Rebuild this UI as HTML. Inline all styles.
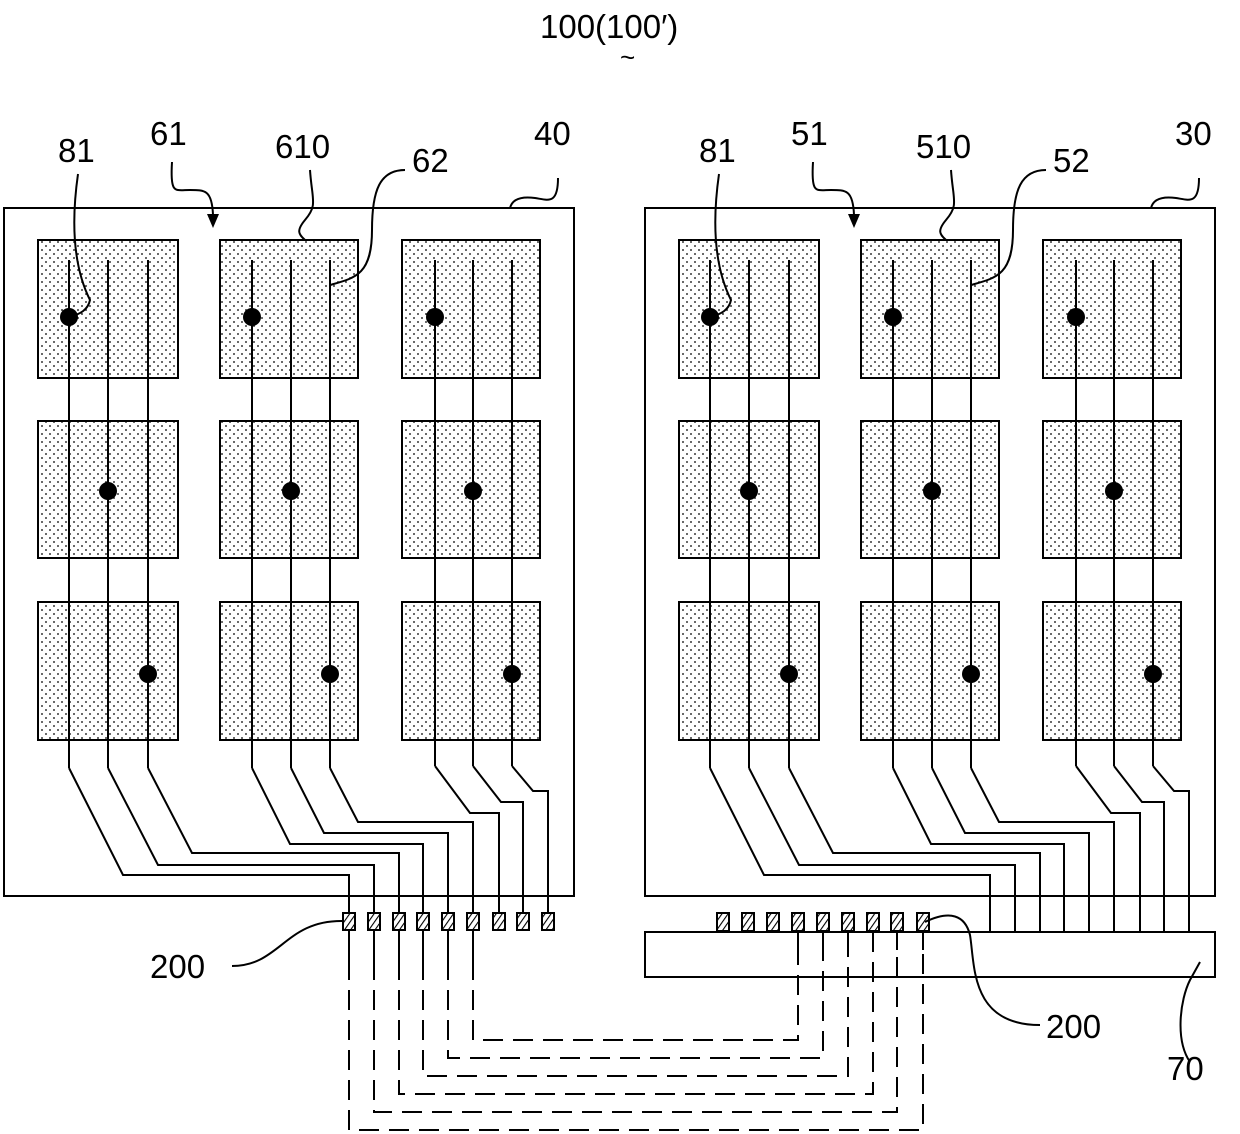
<!DOCTYPE html>
<html><head><style>html,body{margin:0;padding:0;background:#fff}svg{display:block}text{font-family:"Liberation Sans",sans-serif;font-size:33px;fill:#000}</style></head><body>
<svg width="1240" height="1134" viewBox="0 0 1240 1134" xmlns="http://www.w3.org/2000/svg">
<defs>
<pattern id="dots" width="8" height="8" patternUnits="userSpaceOnUse"><circle cx="2" cy="2" r="0.9" fill="#000"/><circle cx="6" cy="6" r="0.9" fill="#000"/></pattern>
<pattern id="hatch" width="5" height="5" patternUnits="userSpaceOnUse" patternTransform="rotate(35)"><line x1="0" y1="0" x2="0" y2="5" stroke="#000" stroke-width="2.2"/></pattern>
<g id="panel">
<rect x="4" y="208" width="570" height="688" fill="none" stroke="#000" stroke-width="2"/>
<g fill="url(#dots)" stroke="#000" stroke-width="2">
<rect x="38" y="240" width="140" height="138"/><rect x="220" y="240" width="138" height="138"/><rect x="402" y="240" width="138" height="138"/>
<rect x="38" y="421" width="140" height="137"/><rect x="220" y="421" width="138" height="137"/><rect x="402" y="421" width="138" height="137"/>
<rect x="38" y="602" width="140" height="138"/><rect x="220" y="602" width="138" height="138"/><rect x="402" y="602" width="138" height="138"/>
</g>
<g stroke="#000" stroke-width="2" fill="none">
<line x1="69" y1="260" x2="69" y2="768"/><line x1="108" y1="260" x2="108" y2="768"/><line x1="148" y1="260" x2="148" y2="768"/>
<line x1="252" y1="260" x2="252" y2="768"/><line x1="291" y1="260" x2="291" y2="768"/><line x1="330" y1="260" x2="330" y2="768"/>
<line x1="435" y1="260" x2="435" y2="766"/><line x1="473" y1="260" x2="473" y2="766"/><line x1="512" y1="260" x2="512" y2="766"/>
<polyline points="69,768 123,875 349,875 349,896"/>
<polyline points="108,768 158,865 374,865 374,896"/>
<polyline points="148,768 192,853 399,853 399,896"/>
<polyline points="252,768 290,844 423,844 423,896"/>
<polyline points="291,768 324,833 448,833 448,896"/>
<polyline points="330,768 358,822 473,822 473,896"/>
<polyline points="435,766 470,813 499,813 499,896"/>
<polyline points="473,766 501,802 523,802 523,896"/>
<polyline points="512,766 533,791 548,791 548,896"/>
</g>
<g fill="#000">
<circle cx="69" cy="317" r="9"/><circle cx="252" cy="317" r="9"/><circle cx="435" cy="317" r="9"/>
<circle cx="108" cy="491" r="9"/><circle cx="291" cy="491" r="9"/><circle cx="473" cy="491" r="9"/>
<circle cx="148" cy="674" r="9"/><circle cx="330" cy="674" r="9"/><circle cx="512" cy="674" r="9"/>
</g>
<g fill="none" stroke="#000" stroke-width="2">
<path d="M78,174 C70,230 75,270 90,300 C88,310 80,314 70,317"/>
<path d="M172,162 C170,195 175,190 190,190 C205,190 212,190 213,215"/>
<path d="M310,170 C312,200 318,205 305,220 C295,232 300,235 305,240"/>
<path d="M405,170 C380,170 372,190 372,230 C372,275 355,278 330,285"/>
<path d="M558,178 C558,205 548,200 535,198 C520,196 512,200 510,208"/>
</g>
<polygon points="207,214 219,214 213,228" fill="#000"/>
</g>
</defs>
<use href="#panel"/>
<use href="#panel" x="641"/>
<text x="540" y="38">100(100′)</text>
<text x="620" y="66" style="font-size:26px">~</text>
<text x="58" y="162">81</text><text x="150" y="145">61</text><text x="275" y="158">610</text><text x="412" y="172">62</text><text x="534" y="145">40</text>
<text x="699" y="162">81</text><text x="791" y="145">51</text><text x="916" y="158">510</text><text x="1053" y="172">52</text><text x="1175" y="145">30</text>
<g stroke="#000" stroke-width="2" fill="none">
<line x1="990" y1="896" x2="990" y2="932"/><line x1="1015" y1="896" x2="1015" y2="932"/><line x1="1040" y1="896" x2="1040" y2="932"/>
<line x1="1064" y1="896" x2="1064" y2="932"/><line x1="1089" y1="896" x2="1089" y2="932"/><line x1="1114" y1="896" x2="1114" y2="932"/>
<line x1="1140" y1="896" x2="1140" y2="932"/><line x1="1164" y1="896" x2="1164" y2="932"/><line x1="1189" y1="896" x2="1189" y2="932"/>
<line x1="349" y1="896" x2="349" y2="913"/><line x1="374" y1="896" x2="374" y2="913"/><line x1="399" y1="896" x2="399" y2="913"/>
<line x1="423" y1="896" x2="423" y2="913"/><line x1="448" y1="896" x2="448" y2="913"/><line x1="473" y1="896" x2="473" y2="913"/>
<line x1="499" y1="896" x2="499" y2="913"/><line x1="523" y1="896" x2="523" y2="913"/><line x1="548" y1="896" x2="548" y2="913"/>
<rect x="645" y="932" width="570" height="45"/>
<line x1="349" y1="930" x2="349" y2="960"/><line x1="374" y1="930" x2="374" y2="960"/><line x1="399" y1="930" x2="399" y2="960"/>
<line x1="423" y1="930" x2="423" y2="960"/><line x1="448" y1="930" x2="448" y2="960"/><line x1="473" y1="930" x2="473" y2="960"/>
<line x1="798" y1="931" x2="798" y2="950"/><line x1="823" y1="931" x2="823" y2="950"/><line x1="848" y1="931" x2="848" y2="950"/>
<line x1="873" y1="931" x2="873" y2="950"/><line x1="897" y1="931" x2="897" y2="950"/><line x1="923" y1="931" x2="923" y2="950"/>
</g>
<g stroke="#000" stroke-width="2" fill="none" stroke-dasharray="20,10">
<polyline points="349,960 349,1130 923,1130 923,950"/>
<polyline points="374,960 374,1112 897,1112 897,950"/>
<polyline points="399,960 399,1094 873,1094 873,950"/>
<polyline points="423,960 423,1076 848,1076 848,950"/>
<polyline points="448,960 448,1058 823,1058 823,950"/>
<polyline points="473,960 473,1040 798,1040 798,950"/>
</g>
<g fill="url(#hatch)" stroke="#000" stroke-width="2">
<rect x="343" y="913" width="12" height="17"/><rect x="368" y="913" width="12" height="17"/><rect x="393" y="913" width="12" height="17"/>
<rect x="417" y="913" width="12" height="17"/><rect x="442" y="913" width="12" height="17"/><rect x="467" y="913" width="12" height="17"/>
<rect x="493" y="913" width="12" height="17"/><rect x="517" y="913" width="12" height="17"/><rect x="542" y="913" width="12" height="17"/>
<rect x="717" y="913" width="12" height="18"/><rect x="742" y="913" width="12" height="18"/><rect x="767" y="913" width="12" height="18"/>
<rect x="792" y="913" width="12" height="18"/><rect x="817" y="913" width="12" height="18"/><rect x="842" y="913" width="12" height="18"/>
<rect x="867" y="913" width="12" height="18"/><rect x="891" y="913" width="12" height="18"/><rect x="917" y="913" width="12" height="18"/>
</g>
<g fill="none" stroke="#000" stroke-width="2">
<path d="M232,966 C280,966 285,920 343,921"/>
<path d="M925,922 C950,910 965,915 970,935 C975,965 970,1025 1040,1025"/>
<path d="M1190,1062 C1175,1040 1180,1000 1190,980 L1200,962"/>
</g>
<text x="150" y="978">200</text><text x="1046" y="1038">200</text><text x="1167" y="1080">70</text>
</svg>
</body></html>
